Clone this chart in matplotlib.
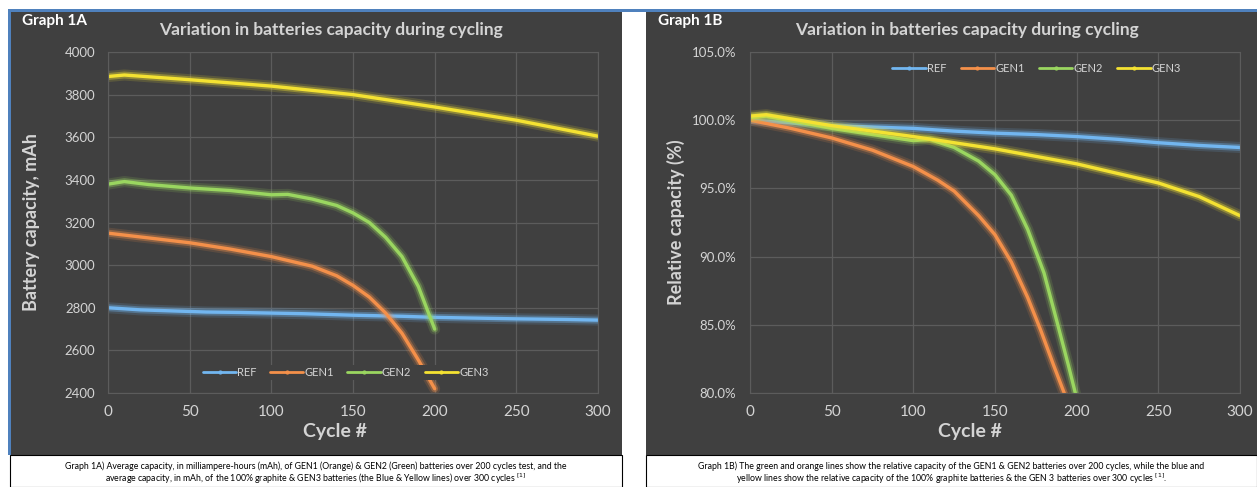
import matplotlib.pyplot as plt
import matplotlib.patheffects as pe
from matplotlib.patches import Rectangle
from matplotlib.ticker import FuncFormatter

plt.rcParams['font.family'] = ['Lato', 'DejaVu Sans']

# Graph 1A - capacity in mAh
ref_cyc = [0, 10, 20, 40, 60, 80, 100, 120, 150, 180, 200, 220, 250, 280, 300]
ref_mah = [2800, 2795, 2790, 2785, 2780, 2778, 2775, 2772, 2765, 2760, 2755, 2752, 2748, 2745, 2742]
gen1_cyc = [0, 20, 50, 75, 100, 125, 140, 150, 160, 170, 180, 190, 200]
gen1_mah = [3150, 3132, 3105, 3075, 3040, 2995, 2950, 2905, 2850, 2775, 2680, 2555, 2420]
gen2_cyc = [0, 10, 25, 50, 75, 100, 110, 125, 140, 150, 160, 170, 180, 190, 200]
gen2_mah = [3380, 3392, 3378, 3362, 3350, 3330, 3332, 3310, 3280, 3245, 3200, 3130, 3040, 2900, 2700]
gen3_cyc = [0, 10, 50, 100, 150, 200, 250, 300]
gen3_mah = [3885, 3892, 3870, 3840, 3800, 3742, 3680, 3605]

# Graph 1B - relative capacity in %
ref_pcyc = [0, 25, 50, 75, 100, 125, 150, 175, 200, 225, 250, 275, 300]
ref_pct = [100.0, 99.8, 99.6, 99.5, 99.4, 99.2, 99.05, 98.95, 98.8, 98.6, 98.35, 98.15, 98.0]
gen1_pcyc = [0, 25, 50, 75, 100, 115, 125, 140, 150, 160, 170, 178, 186, 193]
gen1_pct = [100.0, 99.4, 98.7, 97.8, 96.6, 95.6, 94.8, 93.0, 91.6, 89.6, 87.0, 84.6, 82.0, 79.8]
gen2_pcyc = [0, 10, 50, 100, 110, 125, 140, 150, 160, 170, 180, 188, 195, 200]
gen2_pct = [100.2, 100.3, 99.4, 98.5, 98.6, 98.0, 97.0, 96.0, 94.5, 92.0, 88.8, 85.2, 82.0, 79.6]
gen3_pcyc = [0, 10, 50, 100, 150, 200, 250, 275, 300]
gen3_pct = [100.3, 100.4, 99.6, 98.8, 97.9, 96.8, 95.4, 94.4, 93.0]

names = ["REF", "GEN1", "GEN2", "GEN3"]
colors = ["#72b6f0", "#f4904a", "#9ad660", "#f4e232"]

bg = "#404040"
grid_c = "#5c5c5c"
txt_c = "#d4d4d4"

W, H = 1257, 487
fig = plt.figure(figsize=(W / 100, H / 100), dpi=100)
fig.patch.set_facecolor("white")


def px(x, y, w, h):
    # pixel box (top-left origin) to figure fraction
    return [x / W, 1 - (y + h) / H, w / W, h / H]


def panel(x0, x1, tag, title, ylabel, ylab_x, cap1, cap2):
    r = Rectangle((x0 / W, 1 - 455 / H), (x1 - x0) / W, 443 / H,
                  transform=fig.transFigure, facecolor=bg, edgecolor="none", zorder=-10)
    fig.patches.append(r)
    c = Rectangle((x0 / W, 0), (x1 - x0) / W, 32 / H, transform=fig.transFigure,
                  facecolor="white", edgecolor="black", lw=0.8, zorder=-10)
    fig.patches.append(c)
    fig.text((x0 + 12) / W, 1 - 21 / H, tag, color="white", fontsize=11,
             fontweight="bold", va="center")
    cx = (x0 + x1) / 2 / W + 0.012
    fig.text(cx, 1 - 30 / H, title, color=txt_c, fontsize=12.5,
             fontweight="bold", ha="center", va="center")
    fig.text(ylab_x / W, 1 - 222 / H, ylabel, color=txt_c, fontsize=13,
             fontweight="bold", rotation=90, ha="center", va="center")
    fig.text((x0 + x1) / 2 / W + 0.015, 1 - 432 / H, "Cycle #", color=txt_c,
             fontsize=14, fontweight="bold", ha="center", va="center")
    fig.text((x0 + x1) / 2 / W, 1 - 466 / H, cap1, color="black", fontsize=6.3,
             ha="center", va="center")
    fig.text((x0 + x1) / 2 / W, 1 - 479 / H, cap2, color="black", fontsize=6.3,
             ha="center", va="center")


panel(10, 622, "Graph 1A", "Variation in batteries capacity during cycling",
      "Battery capacity, mAh", 32,
      "Graph 1A) Average capacity, in milliampere-hours (mAh), of GEN1 (Orange) & GEN2 (Green) batteries over 200 cycles test, and the",
      "average capacity, in mAh, of the 100% graphite & GEN3 batteries (the Blue & Yellow lines) over 300 cycles $^{[1]}$")
panel(646, 1257, "Graph 1B", "Variation in batteries capacity during cycling",
      "Relative capacity (%)", 676,
      "Graph 1B) The green and orange lines show the relative capacity of the GEN1 & GEN2 batteries over 200 cycles, while the blue and",
      "yellow lines show the relative capacity of the 100% graphite batteries & the GEN 3 batteries over 300 cycles $^{[1]}$.")

# blue frame lines
fig.patches.append(Rectangle((8 / W, 1 - 12 / H), 1 - 8 / W, 2.5 / H, transform=fig.transFigure,
                             facecolor="#4f81bd", edgecolor="none", zorder=-5))
fig.patches.append(Rectangle((8 / W, 1 - 455 / H), 2.5 / W, 445 / H, transform=fig.transFigure,
                             facecolor="#4f81bd", edgecolor="none", zorder=-5))


def style(ax, ypad):
    ax.set_facecolor(bg)
    ax.set_xlim(0, 300)
    ax.set_xticks(range(0, 301, 50))
    ax.grid(True, color=grid_c, lw=0.9)
    ax.set_axisbelow(True)
    for s in ax.spines.values():
        s.set_color(grid_c)
    ax.tick_params(length=0, colors=txt_c)
    ax.tick_params(axis="x", labelsize=11, pad=9)
    ax.tick_params(axis="y", labelsize=9.5, pad=ypad)


def draw(ax, series):
    for (x, y), n, c in zip(series, names, colors):
        ax.plot(x, y, color=c, lw=2.4, label=n, solid_capstyle="round",
                path_effects=[pe.Stroke(linewidth=8, foreground=c, alpha=0.15),
                              pe.Stroke(linewidth=5, foreground=c, alpha=0.35),
                              pe.Normal()])


ax1 = fig.add_axes(px(108, 52, 490, 341))
style(ax1, 9)
draw(ax1, [(ref_cyc, ref_mah), (gen1_cyc, gen1_mah), (gen2_cyc, gen2_mah), (gen3_cyc, gen3_mah)])
ax1.set_ylim(2400, 4000)
ax1.set_yticks(range(2400, 4001, 200))
leg1 = ax1.legend(loc="center", bbox_to_anchor=(0.485, 0.06), ncol=4, fontsize=8,
                  frameon=True, facecolor=bg, edgecolor="none", framealpha=1,
                  handlelength=3, columnspacing=1.2, borderpad=0.2, labelcolor=txt_c,
                  handletextpad=0.1)

ax2 = fig.add_axes(px(750, 52, 490, 341))
style(ax2, 10)
draw(ax2, [(ref_pcyc, ref_pct), (gen1_pcyc, gen1_pct), (gen2_pcyc, gen2_pct), (gen3_pcyc, gen3_pct)])
ax2.set_ylim(80, 105)
ax2.set_yticks(range(80, 106, 5))
ax2.yaxis.set_major_formatter(FuncFormatter(lambda v, p: f"{v:.1f}%"))
leg2 = ax2.legend(loc="center", bbox_to_anchor=(0.585, 0.953), ncol=4, fontsize=8,
                  frameon=False, handlelength=3, columnspacing=1.3, labelcolor=txt_c,
                  handletextpad=0.1)

for leg in (leg1, leg2):
    for h in leg.get_lines():
        h.set_path_effects([])
        h.set_linewidth(2)
        h.set_marker(".")
        h.set_markersize(4)

fig.savefig("out.png", dpi=100, facecolor=fig.get_facecolor())
